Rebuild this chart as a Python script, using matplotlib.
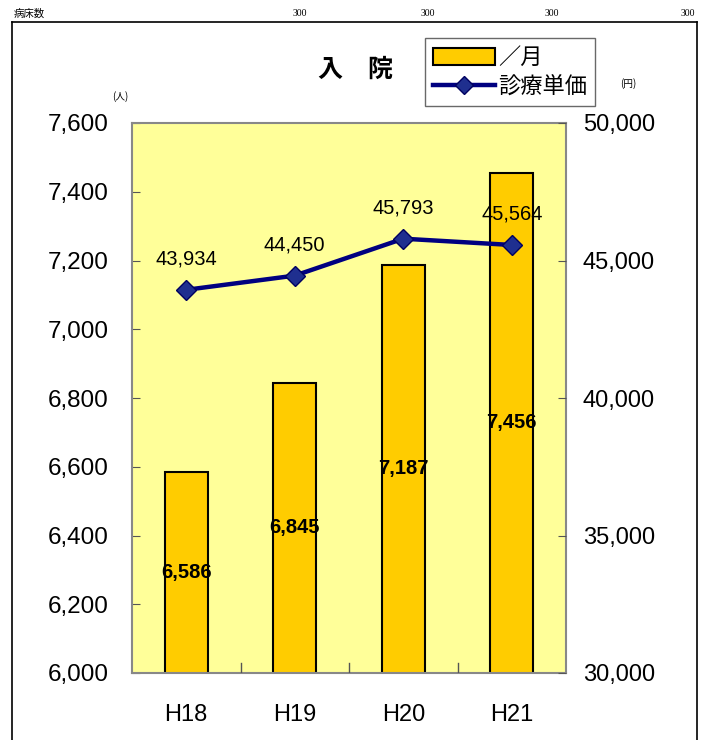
import matplotlib
matplotlib.use("Agg")
import matplotlib.pyplot as plt
from matplotlib.patches import Patch
from matplotlib.lines import Line2D

categories = ["H18", "H19", "H20", "H21"]
patients = [6586, 6845, 7187, 7456]
unit_price = [43934, 44450, 45793, 45564]
beds = ["300", "300", "300", "300"]

JP = ["Noto Sans CJK JP", "DejaVu Sans"]
LAT = ["Liberation Sans", "DejaVu Sans"]

W, H = 707, 740
fig = plt.figure(figsize=(W / 100, H / 100), dpi=100)

def fx(px):
    return px / W

def fy(py):
    return 1 - py / H

# outer frame (left, top, right)
fig.add_artist(Line2D([fx(12), fx(12)], [fy(22), 0], color="black", lw=1.2, transform=fig.transFigure))
fig.add_artist(Line2D([fx(12), fx(697)], [fy(22), fy(22)], color="black", lw=1.2, transform=fig.transFigure))
fig.add_artist(Line2D([fx(697), fx(697)], [fy(22), 0], color="black", lw=1.2, transform=fig.transFigure))

fig.text(fx(14), fy(14), "病床数", family=JP, fontsize=7.5, ha="left", va="center")
for xp, b in zip([300, 428, 552, 688], beds):
    fig.text(fx(xp), fy(14), b, family=["Liberation Serif", "DejaVu Serif"], fontsize=7, ha="center", va="center")

ax = fig.add_axes([fx(132), fy(673), fx(566) - fx(132), fy(123) - fy(673)])
ax.set_facecolor("#FFFF99")
x = list(range(len(categories)))
ax.bar(x, patients, width=0.4, color="#FFCC00", edgecolor="black", linewidth=1.5, zorder=2)
ax.set_xlim(-0.5, 3.5)
ax.set_ylim(6000, 7600)
ax.set_yticks(range(6000, 7601, 200))
ax.set_yticklabels([f"{v:,}" for v in range(6000, 7601, 200)], family=LAT, fontsize=17.5)
ax.set_xticks(x)
ax.set_xticklabels(categories, family=LAT, fontsize=17)
ax.tick_params(axis="x", length=0, pad=22)
ax.tick_params(axis="y", direction="in", length=6, pad=17, color="#555555")
for xb in [0.5, 1.5, 2.5]:
    ax.plot([xb, xb], [6000, 6030], color="#555555", lw=1, zorder=3)
for s in ax.spines.values():
    s.set_color("#888888")
    s.set_linewidth(1.5)

for xi, v in zip(x, patients):
    ax.text(xi, (6000 + v) / 2, f"{v:,}", ha="center", va="center",
            family=LAT, fontsize=14.5, fontweight="bold", zorder=4)

ax2 = ax.twinx()
ax2.set_ylim(30000, 50000)
ax2.set_yticks(range(30000, 50001, 5000))
ax2.set_yticklabels([f"{v:,}" for v in range(30000, 50001, 5000)], family=LAT, fontsize=17)
ax2.tick_params(axis="y", direction="in", length=6, pad=12, color="#555555")
for s in ax2.spines.values():
    s.set_visible(False)
ax2.plot(x, unit_price, color="#000080", lw=3.2, marker="D", markersize=10,
         markerfacecolor="#1F2F8F", markeredgecolor="#000060", zorder=5)
for xi, v in zip(x, unit_price):
    ax2.annotate(f"{v:,}", (xi, v), xytext=(0, 22), textcoords="offset points",
                 ha="center", va="center", family=LAT, fontsize=14.5)

fig.text(fx(355), fy(70), "入　院", family=JP, fontsize=18, fontweight="bold", ha="center", va="center")
fig.text(fx(120), fy(97), "(人)", family=JP, fontsize=7, ha="center", va="center")
fig.text(fx(628), fy(84), "(円)", family=JP, fontsize=7, ha="center", va="center")

handles = [Patch(facecolor="#FFCC00", edgecolor="black", linewidth=1.5),
           Line2D([], [], color="#000080", lw=3.2, marker="D", markersize=9,
                  markerfacecolor="#1F2F8F", markeredgecolor="#000060")]
leg = fig.legend(handles, ["／月", "診療単価"], loc="upper left",
                 bbox_to_anchor=(fx(425), fy(38)), frameon=True, fancybox=False,
                 edgecolor="#444444", prop={"family": JP, "size": 16},
                 handlelength=2.8, handleheight=0.8, handletextpad=0.15,
                 borderpad=0.35, labelspacing=0.3, borderaxespad=0)
leg.get_frame().set_linewidth(1.0)

fig.savefig("out.png", dpi=100)
